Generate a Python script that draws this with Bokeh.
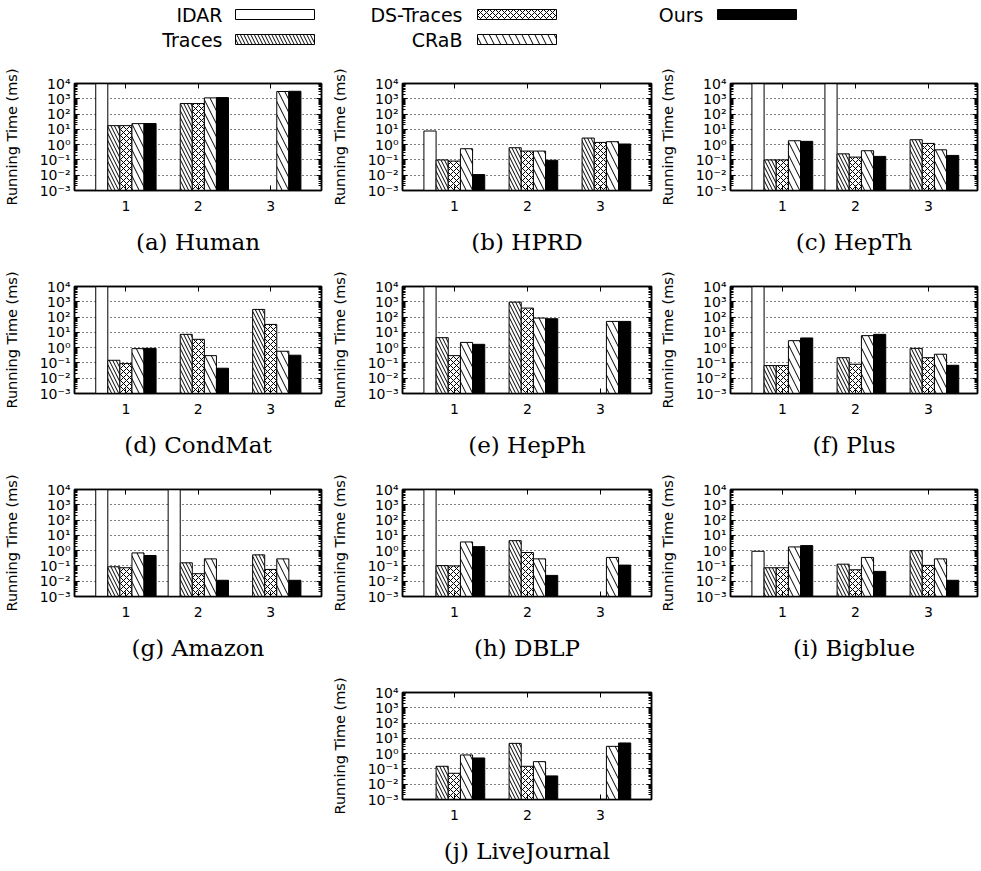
from bokeh.plotting import figure
from bokeh.layouts import column, row, Spacer
from bokeh.models import Range1d, FixedTicker, LinearAxis, LogAxis, CustomJSTickFormatter, ColumnDataSource
from bokeh.embed import file_html
from bokeh.resources import INLINE
from bokeh.core.properties import value

# ---------------- data ----------------
T = 1e5  # did not finish within the axis range (bar reaches the top)
datasets = ["Human", "HPRD", "HepTh", "CondMat", "HepPh", "Plus",
            "Amazon", "DBLP", "Bigblue", "LiveJournal"]
letters = ["a", "b", "c", "d", "e", "f", "g", "h", "i", "j"]
groups = [1, 2, 3]
methods = ["IDAR", "Traces", "DS-Traces", "CRaB", "Ours"]

idar = [[T, None, None], [7.8, None, None], [T, T, None], [T, None, None],
        [T, None, None], [T, None, None], [T, T, None], [T, None, None],
        [0.91, None, None], [None, None, None]]
traces = [[17.5, 487, None], [0.1, 0.63, 2.7], [0.1, 0.25, 2.1], [0.149, 7.4, 316],
          [4.5, 950, None], [0.067, 0.22, 0.9], [0.088, 0.16, 0.53], [0.105, 4.5, None],
          [0.076, 0.13, 1.0], [0.149, 4.7, None]]
ds_traces = [[17.5, 487, None], [0.084, 0.38, 1.4], [0.1, 0.153, 1.2], [0.09, 3.5, 33],
             [0.3, 386, None], [0.067, 0.082, 0.22], [0.076, 0.031, 0.059], [0.1, 0.75, None],
             [0.076, 0.056, 0.108], [0.052, 0.149, None]]
crab = [[23.7, 1146, 2985], [0.54, 0.38, 1.56], [1.8, 0.4, 0.46], [0.86, 0.3, 0.58],
        [2.2, 86, 52], [2.86, 6.1, 0.37], [0.71, 0.29, 0.29], [3.7, 0.29, 0.36],
        [1.75, 0.36, 0.29], [0.82, 0.3, 3.0]]
ours = [[24, 1200, 3100], [0.011, 0.095, 1.1], [1.64, 0.17, 0.197], [0.9, 0.045, 0.32],
        [1.65, 78, 52], [4.3, 7.4, 0.07], [0.48, 0.0115, 0.0115], [1.83, 0.024, 0.113],
        [2.13, 0.044, 0.0115], [0.52, 0.035, 5.0]]
series = [idar, traces, ds_traces, crab, ours]

y_major = [1e-3, 1e-2, 1e-1, 1e0, 1e1, 1e2, 1e3, 1e4]
y_minor = [k * 10.0 ** e for e in range(-3, 4) for k in range(2, 10)]
Y_MIN, Y_MAX = 1e-3, 1e4

# ---------------- styles ----------------
styles = [
    dict(fill_color="white", hatch_pattern=None, hatch_scale=12),
    dict(fill_color="white", hatch_pattern="\\", hatch_scale=7),
    dict(fill_color="white", hatch_pattern="x", hatch_scale=6),
    dict(fill_color="white", hatch_pattern="\\", hatch_scale=13),
    dict(fill_color="black", hatch_pattern=None, hatch_scale=12),
]
BAR_W = 1.0 / 6.0
PX_PER_UNIT = 73.0
X0 = 0.29

SUP = ("const sup = {'-':'\u207b','0':'\u2070','1':'\u00b9','2':'\u00b2','3':'\u00b3',"
       "'4':'\u2074','5':'\u2075','6':'\u2076','7':'\u2077','8':'\u2078','9':'\u2079'};"
       "const e = Math.round(Math.log10(tick));"
       "return '10' + String(e).split('').map(c => sup[c]).join('');")


def make_panel(i, col, height, bottom_border):
    lefts = [72, 75, 76]
    rights = [6, 3, 4]
    fw = 327 - lefts[col] - rights[col]
    p = figure(width=327, height=height, y_axis_type="log",
               x_range=Range1d(X0, X0 + fw / PX_PER_UNIT),
               y_range=Range1d(Y_MIN, Y_MAX),
               min_border_left=lefts[col], min_border_right=rights[col],
               min_border_top=20, min_border_bottom=bottom_border,
               output_backend="svg", toolbar_location=None)
    p.background_fill_color = "white"
    p.border_fill_color = "white"
    p.outline_line_color = "black"
    p.outline_line_width = 1.5
    p.xgrid.visible = False
    p.ygrid.ticker = FixedTicker(ticks=y_major)
    p.ygrid.grid_line_color = "black"
    p.ygrid.grid_line_dash = "1 3"
    p.ygrid.grid_line_width = 1

    for k, (vals, st) in enumerate(zip(series, styles)):
        xs, tops = [], []
        for g, v in zip(groups, vals[i]):
            if v is not None:
                xs.append(g + (k - 2) * BAR_W)
                tops.append(v)
        if not xs:
            continue
        src = ColumnDataSource(dict(x=xs, top=tops))
        p.vbar(x="x", top="top", bottom=Y_MIN, width=BAR_W, source=src,
               fill_color=st["fill_color"], line_color="black", line_width=1,
               hatch_pattern=st["hatch_pattern"], hatch_scale=st["hatch_scale"],
               hatch_color="black", hatch_weight=1)

    ya = p.yaxis[0]
    ya.ticker = FixedTicker(ticks=y_major, minor_ticks=y_minor)
    ya.formatter = CustomJSTickFormatter(code=SUP)
    ya.axis_label = "Running Time (ms)"
    ya.axis_label_text_font = "DejaVu Sans"
    ya.axis_label_text_font_size = "14.5px"
    ya.axis_label_text_font_style = "normal"
    ya.axis_label_text_color = "black"
    ya.axis_label_standoff = 17
    ya.major_label_text_font = "DejaVu Sans"
    ya.major_label_text_font_size = "14px"
    ya.major_label_text_color = "black"
    ya.major_label_standoff = 4

    xa = p.xaxis[0]
    xa.ticker = FixedTicker(ticks=groups)
    xa.axis_label = "(%s) %s" % (letters[i], datasets[i])
    xa.axis_label_text_font = "DejaVu Serif"
    xa.axis_label_text_font_size = "23px"
    xa.axis_label_text_font_style = "normal"
    xa.axis_label_text_color = "black"
    xa.axis_label_standoff = 15
    xa.major_label_text_font = "DejaVu Sans"
    xa.major_label_text_font_size = "14px"
    xa.major_label_text_color = "black"
    xa.major_label_standoff = 10

    empty = CustomJSTickFormatter(code="return '';")
    ra = LogAxis(ticker=FixedTicker(ticks=y_major, minor_ticks=y_minor),
                 formatter=empty, major_label_standoff=0)
    ta = LinearAxis(ticker=FixedTicker(ticks=groups), formatter=empty,
                    major_label_standoff=0)
    p.add_layout(ra, "right")
    p.add_layout(ta, "above")

    for ax in [ya, xa, ra, ta]:
        ax.axis_line_color = "black"
        ax.axis_line_width = 1.5
        ax.major_tick_line_color = "black"
        ax.minor_tick_line_color = "black"
        ax.major_tick_in = 5
        ax.major_tick_out = 0
        ax.minor_tick_in = 3
        ax.minor_tick_out = 0
    return p


# ---------------- legend ----------------
leg = figure(width=981, height=63, x_range=Range1d(0, 981), y_range=Range1d(63, 0),
             min_border=0, output_backend="svg", toolbar_location=None)
leg.axis.visible = False
leg.grid.visible = False
leg.outline_line_color = None
leg_text_right = [222, 222, 462, 462, 703]
leg_sw_left = [235, 235, 477, 477, 717]
leg_y = [14, 39, 14, 39, 14]
SW_W, SW_H = 79, 10
leg.text(x=leg_text_right, y=leg_y, text=methods, text_align="right",
         text_baseline="middle", text_font=value("DejaVu Sans"),
         text_font_size="19px", text_color="black")
for k, st in enumerate(styles):
    leg.quad(left=[leg_sw_left[k]], right=[leg_sw_left[k] + SW_W],
             top=[leg_y[k] - SW_H / 2], bottom=[leg_y[k] + SW_H / 2],
             fill_color=st["fill_color"], line_color="black", line_width=1,
             hatch_pattern=st["hatch_pattern"], hatch_scale=st["hatch_scale"],
             hatch_color="black", hatch_weight=1)

panels = []
for i in range(10):
    if i < 9:
        panels.append(make_panel(i, i % 3, 203, 76))
    else:
        panels.append(make_panel(i, 1, 199, 72))

layout = column(
    leg,
    row(panels[0], panels[1], panels[2]),
    row(panels[3], panels[4], panels[5]),
    row(panels[6], panels[7], panels[8]),
    row(Spacer(width=327, height=199), panels[9]),
)

open("out.html", "w", encoding="utf-8").write(file_html(layout, INLINE))
